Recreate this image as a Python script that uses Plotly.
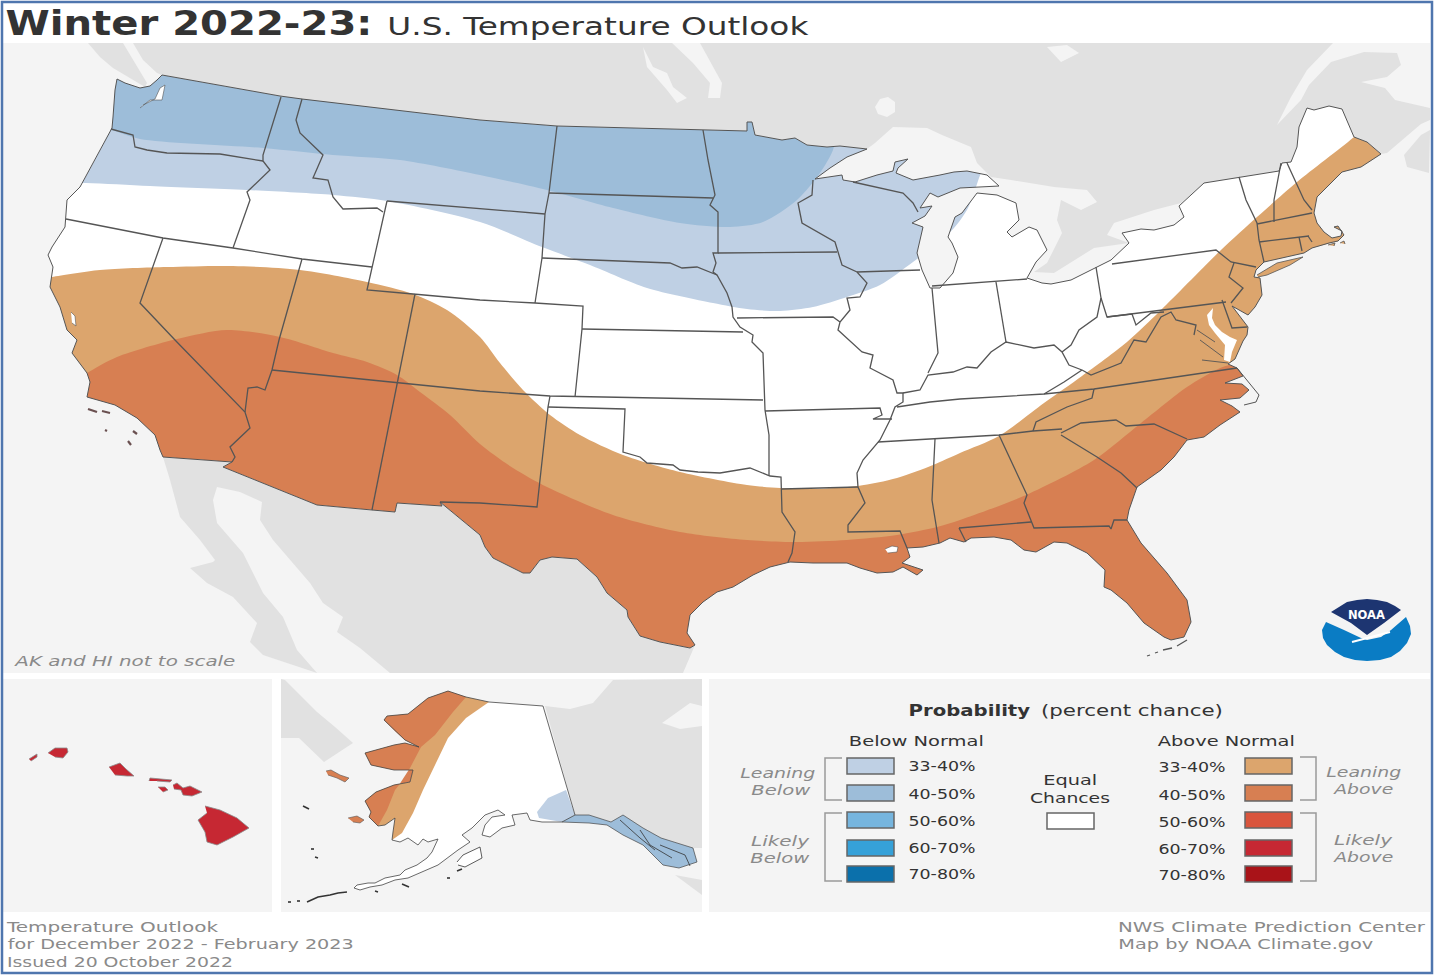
import json
import plotly.graph_objects as go

BLUE_33 = '#bfd0e4'
BLUE_40 = '#9dbdd9'
ORANGE_33 = '#dca56d'
ORANGE_40 = '#d77f52'
RED_60 = '#c62833'
LAND_GRAY = '#e1e1e1'
WATER = '#f4f4f4'
BORDER = '#555555'

below_colors = ['#bfd0e4', '#9dbdd9', '#76b5de', '#36a1d9', '#0b70ab']
above_colors = ['#dca56d', '#d77f52', '#d9553d', '#c62833', '#a91318']
legend_labels = ['33-40%', '40-50%', '50-60%', '60-70%', '70-80%']

# outline of the lower 48, clockwise from Cape Flattery
north_border = [(162, 75), (280, 96), (302, 99), (480, 120), (557, 126), (703, 130), (747, 131), (747, 122),
                (752, 122), (755, 135), (767, 137), (782, 140), (795, 138), (807, 145), (827, 147), (840, 146), (867, 149)]
great_lakes_coast = [(847, 157), (830, 168), (815, 179), (842, 175), (843, 180), (855, 182), (877, 175), (893, 171),
                     (895, 162), (908, 159), (898, 168), (896, 173), (913, 180), (940, 175), (954, 172), (967, 171),
                     (987, 175), (999, 186), (981, 187), (960, 188), (938, 197), (930, 193), (920, 208), (932, 206),
                     (925, 216), (912, 223), (923, 227), (917, 253), (922, 270), (930, 288), (940, 288), (953, 273),
                     (958, 257), (952, 243), (948, 237), (955, 217), (962, 213), (977, 193), (997, 195), (1016, 203),
                     (1019, 220), (1007, 232), (1012, 237), (1029, 227), (1037, 230), (1047, 250), (1036, 262),
                     (1027, 278), (1042, 283), (1051, 284), (1071, 280), (1111, 260), (1129, 243), (1122, 233),
                     (1141, 229), (1154, 230), (1174, 225), (1184, 217), (1179, 206), (1204, 183)]
northeast_border = [(1204, 183), (1279, 171), (1282, 163), (1291, 162), (1297, 147), (1299, 127), (1307, 108), (1314, 110),
                    (1329, 106), (1342, 109), (1354, 137), (1367, 142), (1381, 154)]
atlantic_coast = [(1361, 167), (1342, 172), (1331, 183), (1317, 197), (1314, 213), (1317, 223), (1324, 232), (1332, 238),
                  (1341, 236), (1342, 231), (1334, 227), (1338, 226), (1344, 235), (1338, 241), (1329, 243), (1312, 248),
                  (1304, 253), (1264, 262), (1256, 270), (1254, 277), (1260, 278), (1262, 295), (1255, 307), (1248, 315),
                  (1232, 306), (1248, 327), (1247, 335), (1243, 341), (1235, 359), (1228, 364), (1237, 368), (1243, 376),
                  (1225, 383), (1242, 384), (1249, 390), (1240, 398), (1220, 400), (1232, 406), (1240, 412), (1220, 425),
                  (1204, 437), (1187, 440), (1174, 457), (1161, 470), (1137, 487), (1129, 510), (1127, 520), (1141, 543),
                  (1167, 573), (1187, 600), (1191, 622), (1184, 637), (1171, 640), (1164, 637), (1144, 623), (1127, 603),
                  (1111, 590), (1104, 587), (1105, 570), (1087, 553), (1067, 543), (1054, 542), (1036, 552), (1024, 550),
                  (1011, 540), (994, 537), (971, 538), (964, 542), (950, 538)]
gulf_coast = [(940, 543), (923, 547), (907, 548), (910, 557), (902, 563), (923, 570), (917, 575), (903, 567), (893, 572),
              (877, 573), (860, 568), (847, 563), (837, 563), (813, 563), (790, 562), (770, 567), (753, 575), (733, 587),
              (717, 592), (703, 602), (690, 615), (687, 633), (695, 645)]
mexico_border = [(695, 645), (690, 648), (660, 642), (640, 636), (628, 617), (627, 610), (607, 593), (597, 577), (577, 559),
                 (552, 557), (540, 560), (530, 573), (523, 573), (493, 558), (485, 547), (480, 535), (440, 502), (442, 506),
                 (397, 503), (395, 512), (372, 510), (317, 505), (223, 467), (232, 462), (163, 457)]
pacific_coast = [(160, 450), (155, 435), (137, 418), (115, 405), (87, 397), (90, 382), (87, 373), (72, 353), (77, 340),
                 (67, 330), (60, 307), (50, 287), (53, 267), (48, 255), (52, 247), (65, 227), (67, 200), (80, 187), (95, 160),
                 (112, 128), (113, 117), (115, 90), (117, 79), (125, 83), (140, 88), (150, 86), (157, 80)]
conus_outline = north_border + great_lakes_coast + northeast_border + atlantic_coast + gulf_coast + mexico_border + pacific_coast

# boundaries between the probability classes, west to east
blue_33_edge = [(40, 183), (86, 183), (150, 186), (247, 190), (333, 195), (387, 201), (480, 222), (542, 247), (590, 265),
                (647, 288), (713, 303), (747, 309), (780, 311), (813, 307), (847, 297), (880, 285), (913, 262), (935, 245),
                (954, 228), (968, 208), (979, 178), (985, 160)]
blue_40_edge = [(60, 124), (111, 130), (140, 139), (263, 148), (333, 155), (400, 160), (480, 175), (547, 190), (613, 208),
                (680, 223), (730, 227), (763, 222), (797, 200), (820, 173), (833, 150), (838, 125)]
orange_33_edge = [(40, 279), (52, 277), (100, 270), (167, 267), (233, 266), (300, 270), (367, 282), (413, 294), (447, 310),
                  (480, 337), (500, 363), (523, 390), (550, 415), (580, 435), (623, 455), (680, 472), (747, 485), (780, 488),
                  (813, 489), (858, 486), (897, 478), (933, 465), (960, 453), (999, 436), (1044, 403), (1082, 376),
                  (1127, 342), (1161, 310), (1221, 250), (1257, 217), (1297, 182), (1354, 137), (1400, 95)]
orange_40_edge = [(60, 390), (87, 373), (117, 357), (177, 339), (227, 330), (280, 337), (333, 353), (367, 362), (397, 375),
                  (420, 392), (450, 415), (480, 444), (513, 468), (547, 487), (613, 515), (680, 532), (747, 540), (797, 542),
                  (847, 540), (897, 535), (937, 527), (960, 520), (1026, 495), (1094, 460), (1141, 423), (1187, 387),
                  (1218, 369), (1232, 364), (1270, 352)]

state_borders = [
    [(111, 129), (133, 135), (135, 147), (147, 150), (167, 153), (220, 154), (263, 161)],
    [(281, 97), (263, 155), (263, 161), (270, 170), (247, 192), (250, 200), (233, 248)],
    [(302, 99), (296, 120), (300, 133), (323, 155), (313, 178), (328, 180), (333, 197), (343, 209), (377, 208), (383, 212)],
    [(387, 201), (480, 209), (545, 214)],
    [(557, 126), (549, 193), (545, 214), (542, 258), (535, 303)],
    [(387, 201), (372, 267), (367, 290), (413, 294), (480, 300), (535, 303), (583, 306), (582, 329), (577, 380), (575, 397)],
    [(66, 219), (163, 238), (233, 248), (302, 259), (372, 267)],
    [(163, 238), (140, 303), (175, 340), (245, 412), (250, 428), (230, 447), (235, 457), (232, 462)],
    [(302, 259), (279, 340), (272, 370), (265, 390), (257, 387), (248, 388), (245, 412)],
    [(415, 294), (397, 383), (372, 510)],
    [(272, 370), (397, 383), (480, 391), (550, 396), (763, 400)],
    [(542, 258), (670, 263), (682, 268), (697, 267), (717, 275)],
    [(549, 193), (713, 198)],
    [(703, 130), (708, 160), (715, 195), (710, 205), (718, 212), (718, 253), (713, 253), (716, 263), (713, 272), (717, 275),
     (727, 293), (732, 307), (733, 317), (740, 327), (753, 335), (752, 342), (763, 353), (765, 410), (769, 435), (769, 476)],
    [(718, 253), (837, 252)],
    [(813, 180), (812, 195), (798, 203), (802, 223), (835, 242), (838, 252), (842, 265), (857, 272), (867, 283), (860, 297),
     (847, 298), (850, 310), (840, 322), (838, 330), (862, 352), (873, 355), (870, 368), (893, 380), (897, 393), (903, 393),
     (903, 402), (895, 407), (890, 420), (880, 440), (863, 460), (857, 473), (858, 487), (865, 503), (848, 525), (848, 532),
     (900, 531), (907, 548)],
    [(737, 318), (833, 317), (840, 322)],
    [(857, 272), (920, 270)],
    [(853, 182), (903, 193), (913, 203), (918, 212)],
    [(582, 329), (743, 332)],
    [(550, 396), (548, 407), (537, 507), (480, 503), (440, 502)],
    [(548, 407), (625, 409), (623, 452), (640, 457), (647, 463), (673, 465), (680, 470), (698, 472), (720, 473), (750, 468),
     (770, 476), (781, 477), (782, 512), (795, 532), (792, 553), (788, 562)],
    [(782, 489), (858, 487)],
    [(765, 411), (880, 408), (882, 415), (873, 419), (892, 419)],
    [(935, 439), (932, 500), (939, 543)],
    [(878, 442), (935, 439), (999, 435), (1033, 431), (1062, 429)],
    [(897, 407), (930, 402), (960, 399), (1044, 394), (1094, 389), (1237, 368)],
    [(903, 393), (920, 390), (928, 375), (953, 372), (967, 367), (977, 368), (991, 352), (1006, 342), (1034, 348), (1054, 345),
     (1062, 352), (1069, 365), (1082, 370), (1064, 382), (1044, 394)],
    [(1062, 352), (1071, 345), (1079, 330), (1097, 317), (1101, 298), (1096, 267)],
    [(1101, 298), (1107, 317), (1132, 314), (1136, 325), (1151, 313), (1164, 312)],
    [(1082, 370), (1091, 375), (1121, 363), (1134, 340), (1146, 342), (1161, 317), (1171, 312), (1176, 320), (1196, 325), (1194, 335)],
    [(1107, 317), (1226, 302)],
    [(1112, 264), (1216, 250), (1231, 262), (1256, 267)],
    [(1234, 263), (1229, 277), (1243, 288), (1231, 303)],
    [(1239, 177), (1246, 200), (1257, 223), (1259, 240), (1264, 262)],
    [(1281, 163), (1274, 200), (1274, 222)],
    [(1257, 224), (1312, 213)],
    [(1287, 163), (1304, 200), (1312, 210)],
    [(1259, 242), (1309, 236)],
    [(1299, 237), (1302, 251)],
    [(1308, 236), (1312, 242)],
    [(1222, 300), (1232, 328), (1247, 327)],
    [(996, 282), (1006, 342)],
    [(932, 288), (938, 353), (928, 373)],
    [(932, 286), (1027, 279)],
    [(999, 435), (1027, 495), (1024, 503), (1034, 528), (1109, 526), (1111, 529), (1114, 520), (1127, 520)],
    [(959, 528), (1031, 522)],
    [(959, 528), (966, 542)],
    [(1061, 435), (1097, 457), (1121, 473), (1137, 488)],
    [(1061, 433), (1081, 423), (1116, 420), (1126, 426), (1154, 424), (1187, 439)],
    [(1094, 389), (1092, 398), (1067, 407), (1036, 422), (1033, 431)],
]
virginia_rivers = [[(1197, 330), (1215, 342)], [(1200, 340), (1223, 357)], [(1202, 360), (1228, 363)]]

# outside the lower 48
vancouver_island = [(88, 43), (100, 57), (113, 68), (128, 77), (145, 87), (147, 83), (133, 60), (123, 43)]
canada_west = [(133, 43), (1333, 43), (1307, 70), (1291, 97), (1277, 125), (1301, 100), (1309, 85), (1331, 62), (1364, 52),
               (1397, 53), (1401, 65), (1387, 77), (1361, 82), (1385, 88), (1395, 100), (1430, 108), (1430, 120), (1421, 124),
               (1387, 153), (1381, 154)] + northeast_border[::-1] + [
               (1181, 203), (1154, 210), (1114, 223), (1107, 235), (1129, 243), (1094, 248), (1054, 273), (1034, 272),
               (1047, 263), (1062, 233), (1057, 220), (1061, 200), (1081, 210), (1097, 202), (1087, 190), (1054, 187),
               (1011, 180), (991, 177), (977, 163), (971, 147), (942, 135), (927, 128), (893, 127), (875, 143)] + north_border[::-1] + [
               (157, 73), (143, 60)]
nova_scotia = [(1430, 130), (1421, 135), (1404, 155), (1407, 167), (1429, 173)]
lake_winnipeg_a = [(672, 43), (700, 43), (722, 83), (720, 98), (708, 98), (710, 83), (693, 63)]
lake_winnipeg_b = [(643, 47), (653, 67), (667, 73), (673, 87), (687, 98), (677, 103), (667, 90), (647, 67)]
lake_nipigon = [(875, 107), (880, 99), (888, 97), (895, 102), (895, 112), (887, 117), (878, 114)]
james_bay = [(1047, 47), (1061, 62), (1079, 53), (1067, 45)]
mexico = mexico_border[:-1] + [(163, 457), (170, 480), (180, 517), (200, 540), (215, 560), (213, 562), (190, 568), (207, 583),
                               (233, 597), (257, 623), (250, 642), (263, 655), (293, 665), (317, 673), (683, 673)]
gulf_california = [(217, 487), (240, 492), (262, 502), (260, 520), (273, 540), (310, 583), (323, 603), (343, 617), (337, 632),
                   (360, 648), (390, 673), (317, 673), (297, 650), (283, 617), (263, 593), (243, 553), (217, 523), (213, 500)]
long_island = [(1257, 275), (1277, 263), (1290, 260), (1303, 257), (1290, 265), (1267, 275), (1258, 277)]
nantucket = [(1328, 245), (1335, 243), (1334, 246)]
marthas = [(1340, 243), (1344, 241), (1345, 244)]
chesapeake = [(1213, 308), (1207, 315), (1209, 325), (1215, 333), (1225, 345), (1224, 360), (1230, 362), (1232, 352), (1237, 340),
              (1230, 337), (1222, 332), (1215, 325), (1212, 318)]
pontchartrain = [(885, 549), (892, 546), (898, 547), (897, 552), (888, 553)]
puget_sound = [(140, 108), (150, 100), (162, 100), (165, 85), (160, 88), (155, 99), (143, 105)]
sf_bay = [(71, 312), (75, 316), (76, 326), (72, 323)]
channel_islands = [[(88, 409), (97, 412)], [(102, 411), (110, 413)], [(105, 430), (107, 431)], [(133, 431), (137, 434)], [(128, 441), (131, 445)]]
florida_keys = [[(1147, 656), (1150, 655)], [(1155, 653), (1158, 652)], [(1163, 650), (1172, 648)], [(1177, 646), (1187, 640)]]
outer_banks = [(1237, 368), (1247, 380), (1259, 395), (1256, 402), (1244, 405)]

# Hawaii
niihau = [(29, 759), (37, 754), (37, 757), (31, 761)]
kauai = [(48, 753), (55, 748), (67, 748), (68, 752), (63, 758), (55, 757)]
oahu = [(109, 767), (120, 763), (126, 769), (134, 776), (127, 776), (115, 775)]
molokai = [(149, 781), (150, 778), (172, 780), (170, 782), (157, 781)]
lanai = [(158, 787), (165, 787), (168, 790), (163, 792)]
maui = [(173, 785), (177, 783), (183, 788), (190, 786), (202, 792), (192, 796), (183, 795), (181, 790), (174, 789)]
big_island = [(205, 806), (220, 810), (237, 818), (249, 828), (233, 837), (217, 845), (207, 842), (205, 832), (198, 820), (207, 813)]

# Alaska
ak_arctic = [(489, 702), (466, 697), (448, 691), (428, 698), (408, 714), (387, 716), (384, 720), (396, 732), (405, 740), (419, 747)]
ak_west = [(405, 743), (394, 745), (365, 753), (371, 765), (394, 770), (413, 770), (410, 782), (394, 785), (376, 792), (365, 801),
           (371, 812), (369, 817), (378, 826)]
ak_west_tail = [(385, 825), (395, 818), (393, 832), (392, 840)]
ak_south = [(400, 842), (408, 838), (418, 845), (423, 839), (428, 842), (438, 839), (432, 852), (427, 858), (417, 865), (405, 870),
            (400, 875), (385, 878), (375, 883), (368, 883), (357, 885), (354, 888), (360, 890), (370, 887), (382, 885), (395, 880),
            (408, 878), (422, 872), (438, 865), (458, 850), (470, 842), (462, 835), (472, 828), (485, 815), (498, 810), (505, 815),
            (492, 817), (485, 825), (482, 835), (490, 837), (502, 828), (515, 825), (512, 815), (527, 813), (530, 820), (542, 822),
            (562, 822), (575, 815)]
alaska = ak_arctic + ak_west + ak_west_tail + ak_south + [(543, 706)]
ak_orange_40_edge = [(378, 826), (387, 810), (395, 790), (399, 785), (410, 768), (421, 747), (435, 735), (453, 712), (466, 697)]
ak_orange_33_edge = [(392, 840), (402, 833), (413, 813), (423, 790), (435, 765), (448, 738), (466, 718), (489, 702)]
ak_blue_patch = [(566, 790), (548, 798), (537, 812), (539, 818), (562, 822), (575, 815)]
panhandle = [(575, 815), (589, 815), (611, 822), (623, 815), (643, 828), (661, 838), (693, 848), (697, 862), (679, 868), (663, 865),
             (643, 845), (623, 835), (607, 825), (589, 823), (562, 822)]
panhandle_lines = [[(620, 820), (640, 838), (655, 850)], [(640, 830), (650, 845), (672, 858)], [(660, 845), (685, 855), (690, 866)]]
st_lawrence = [(326, 771), (331, 770), (340, 775), (349, 778), (345, 782), (337, 778), (328, 775)]
nunivak = [(348, 818), (357, 816), (364, 820), (360, 823), (353, 822)]
kodiak = [(457, 862), (463, 855), (480, 847), (482, 858), (465, 867), (458, 865)]
aleutians = [[(288, 902), (291, 902)], [(297, 901), (300, 901)], [(307, 902), (318, 897), (330, 895), (338, 893), (347, 892)], [(375, 891), (378, 892)],
             [(311, 849), (314, 849)], [(315, 857), (318, 858)], [(447, 878), (450, 878)], [(303, 806), (309, 809)], [(457, 871), (462, 869)],
             [(402, 884), (409, 887)]]
siberia = [(281, 679), (285, 680), (317, 712), (335, 727), (353, 743), (335, 755), (324, 762), (299, 738), (281, 738)]
canada_ak = [(545, 706), (570, 709), (593, 703), (613, 680), (702, 679), (702, 848), (693, 848), (661, 838), (643, 828), (623, 815),
             (611, 822), (589, 815), (575, 815)]
ak_bay = [(662, 723), (690, 703), (702, 706), (702, 726), (680, 729)]
bc_corner = [(675, 875), (702, 880), (702, 895)]

# NOAA logo
noaa_navy = [(1331, 612), (1340, 606), (1347, 602), (1357, 600), (1367, 599), (1377, 600), (1387, 602), (1395, 606), (1401, 610),
             (1384, 623), (1367, 635), (1351, 623)]
noaa_blue = [(1326, 622), (1322, 630), (1323, 638), (1327, 645), (1335, 652), (1344, 657), (1355, 660), (1367, 661), (1380, 660),
             (1391, 657), (1400, 651), (1407, 643), (1411, 634), (1410, 626), (1406, 617), (1391, 630), (1381, 637), (1367, 640),
             (1361, 638), (1344, 630)]
noaa_wave = [(1352, 642), (1367, 638), (1380, 635), (1390, 632)]

# the picture is stretched sideways, so each text keeps its measured width
text_widths = {}


def xy(points):
    return [p[0] for p in points], [p[1] for p in points]


def fill(fig, points, color, edge=None, width=1.0, smooth=False):
    x, y = xy(points)
    line = dict(color=edge if edge else color, width=width if edge else 0)
    if smooth:
        line['shape'] = 'spline'
        line['smoothing'] = 0.8
    fig.add_trace(go.Scatter(x=x, y=y, mode='lines', fill='toself', fillcolor=color, line=line, hoverinfo='skip'))


def lines(fig, paths, color=BORDER, width=1.1, closed=False):
    x, y = [], []
    for path in paths:
        px, py = xy(path)
        if closed:
            px, py = px + px[:1], py + py[:1]
        x += px + [None]
        y += py + [None]
    fig.add_trace(go.Scatter(x=x, y=y, mode='lines', line=dict(color=color, width=width), hoverinfo='skip'))


def text(fig, x, y, s, wide, size=14, color='#333333', style='normal', weight='normal'):
    text_widths[s] = wide
    fig.add_annotation(x=x, y=y, text=s, showarrow=False, xanchor='center', yanchor='middle', xref='x', yref='y',
                       font=dict(size=size, color=color, family='DejaVu Sans', style=style, weight=weight))


def box(x0, y0, x1, y1):
    return [(x0, y0), (x1, y0), (x1, y1), (x0, y1)]


fig = go.Figure()

# probability bands, then a whole-page mask with the lower 48 cut out of it
fill(fig, blue_33_edge + [(985, 60), (40, 60)], BLUE_33, smooth=True)
fill(fig, blue_40_edge + [(838, 60), (60, 60)], BLUE_40, smooth=True)
fill(fig, orange_33_edge + [(1410, 95), (1410, 660), (40, 660)], ORANGE_33, smooth=True)
fill(fig, orange_40_edge + [(1410, 352), (1410, 660), (60, 660)], ORANGE_40, smooth=True)

page = [(0, 0), (1434, 0), (1434, 975), (0, 975), (0, 0)]
fill(fig, page + conus_outline[:1] + conus_outline[::-1], WATER)

# white page around the panels
for strip in [box(0, 0, 1434, 43), box(0, 673, 1434, 975), box(0, 0, 3, 975), box(1430, 0, 1434, 975)]:
    fill(fig, strip, 'white')
for panel in [box(3, 679, 272, 912), box(281, 679, 702, 912), box(709, 679, 1430, 912)]:
    fill(fig, panel, WATER)
fig.add_shape(type='rect', x0=2, y0=2, x1=1432, y1=973, line=dict(color='#4f76ae', width=2.5), layer='above')

# surrounding land
fill(fig, vancouver_island, LAND_GRAY)
fill(fig, canada_west, LAND_GRAY)
fill(fig, nova_scotia, LAND_GRAY)
fill(fig, mexico, LAND_GRAY)
for lake in [gulf_california, lake_winnipeg_a, lake_winnipeg_b, lake_nipigon, james_bay]:
    fill(fig, lake, WATER)

# water bodies and islands on the lower 48
fill(fig, chesapeake, 'white')
for water in [pontchartrain, puget_sound, sf_bay]:
    fill(fig, water, 'white', edge=BORDER, width=0.6)
fill(fig, long_island, ORANGE_33, edge=BORDER, width=0.8)
fill(fig, nantucket, ORANGE_33, edge=BORDER, width=0.8)
fill(fig, marthas, ORANGE_33, edge=BORDER, width=0.8)

lines(fig, [conus_outline], closed=True, width=1.0)
lines(fig, state_borders, width=1.3)
lines(fig, virginia_rivers, width=0.9)
lines(fig, [outer_banks], width=1.0)
lines(fig, channel_islands, color='#6a5050', width=2.2)
lines(fig, florida_keys, color='#555555', width=1.3)

# Hawaii
for island in [niihau, kauai, oahu, molokai, lanai, maui, big_island]:
    fill(fig, island, RED_60, edge='#8a8a8a', width=0.8)

# Alaska
fill(fig, siberia, LAND_GRAY)
fill(fig, canada_ak, LAND_GRAY)
fill(fig, ak_bay, WATER)
fill(fig, bc_corner, LAND_GRAY)
fill(fig, alaska, 'white')
fill(fig, ak_arctic + ak_west + ak_west_tail + ak_orange_33_edge, ORANGE_33)
fill(fig, ak_arctic[1:] + ak_west + ak_orange_40_edge, ORANGE_40)
fill(fig, ak_blue_patch, BLUE_33)
fill(fig, panhandle, BLUE_40, edge='#444444', width=0.7)
fill(fig, st_lawrence, ORANGE_40, edge='#555555', width=0.6)
fill(fig, nunivak, ORANGE_40, edge='#555555', width=0.6)
fill(fig, kodiak, 'white', edge='#333333', width=0.8)
lines(fig, [alaska], closed=True, color='#444444', width=0.8)
lines(fig, panhandle_lines, color='#333333', width=0.8)
lines(fig, aleutians, color='#333333', width=1.6)

# NOAA logo
fill(fig, noaa_blue, '#0a7cc4')
fill(fig, noaa_navy, '#1d3571')
lines(fig, [noaa_wave], color='white', width=2)
text(fig, 1366, 615, 'NOAA', 37, size=11.5, color='white', weight='bold')

# legend
for colors, x0 in [(below_colors, 847), (above_colors, 1245)]:
    for i, c in enumerate(colors):
        top = [758, 785, 812, 840, 866][i]
        fig.add_shape(type='rect', x0=x0, x1=x0 + 47, y0=top, y1=top + 16, fillcolor=c, line=dict(color='#666666', width=1.5))
fig.add_shape(type='rect', x0=1047, x1=1094, y0=813, y1=829, fillcolor='white', line=dict(color='#666666', width=1.5))

for label, y_row in zip(legend_labels, [766, 794, 821, 848, 874]):
    text(fig, 942, y_row, label, 67)
    text(fig, 1191.5, y_row + 0.5, label, 67)

brackets = [
    [(842, 758), (825, 758), (825, 800), (842, 800)],
    [(842, 813), (825, 813), (825, 881), (842, 881)],
    [(1300, 757), (1316, 757), (1316, 800), (1300, 800)],
    [(1300, 813), (1316, 813), (1316, 881), (1300, 881)],
]
lines(fig, brackets, color='#999999', width=1.5)

text(fig, 969, 711, 'Probability', 121.5, size=15, weight='bold')
text(fig, 1132, 711, '(percent chance)', 182, size=15)
text(fig, 916, 741, 'Below Normal', 135, size=14.5)
text(fig, 1226.5, 741, 'Above Normal', 137, size=14.5)
text(fig, 1070, 780, 'Equal', 54, size=14.5)
text(fig, 1070, 798, 'Chances', 80, size=14.5)
for s, wide, x0, y0 in [('Leaning', 75, 777.5, 773), ('Below', 59, 781, 790), ('Likely', 58, 780, 841), ('Below', 59, 780, 858),
                        ('Leaning', 75, 1363.5, 772), ('Above', 59, 1363.5, 789), ('Likely', 58, 1363, 840), ('Above', 59, 1363, 857)]:
    text(fig, x0, y0, s, wide, size=14.5, color='#8a8a8a', style='italic')

# titles and credits
text(fig, 188.5, 23, 'Winter 2022-23:', 367, size=33, weight='bold')
text(fig, 597.5, 26, 'U.S. Temperature Outlook', 421, size=25)
text(fig, 125, 661, 'AK and HI not to scale', 220, size=14.5, color='#8a8a8a', style='italic')
text(fig, 112.5, 927, 'Temperature Outlook', 211, size=14.5, color='#8a8a8a')
text(fig, 180, 944, 'for December 2022 - February 2023', 346, size=14.5, color='#8a8a8a')
text(fig, 120, 962, 'Issued 20 October 2022', 226, size=14.5, color='#8a8a8a')
text(fig, 1271, 927, 'NWS Climate Prediction Center', 307, size=14.5, color='#8a8a8a')
text(fig, 1246, 944, 'Map by NOAA Climate.gov', 255, size=14.5, color='#8a8a8a')

fig.update_layout(width=1434, height=975, margin=dict(l=0, r=0, t=0, b=0), showlegend=False,
                  paper_bgcolor='white', plot_bgcolor='white',
                  xaxis=dict(range=[0, 1434], visible=False, fixedrange=True),
                  yaxis=dict(range=[975, 0], visible=False, fixedrange=True))

stretch_js = """
document.body.style.margin='0';document.body.style.overflow='hidden';
var widths = %s;
function stretch() {
  document.querySelectorAll('.annotation-text').forEach(function (t) {
    var w = widths[t.textContent];
    if (w) { t.setAttribute('textLength', w); t.setAttribute('lengthAdjust', 'spacingAndGlyphs'); }
  });
}
stretch(); setTimeout(stretch, 0); setTimeout(stretch, 300);
""" % json.dumps(text_widths)
fig.write_html("out.html", config={'displayModeBar': False}, post_script=stretch_js)
